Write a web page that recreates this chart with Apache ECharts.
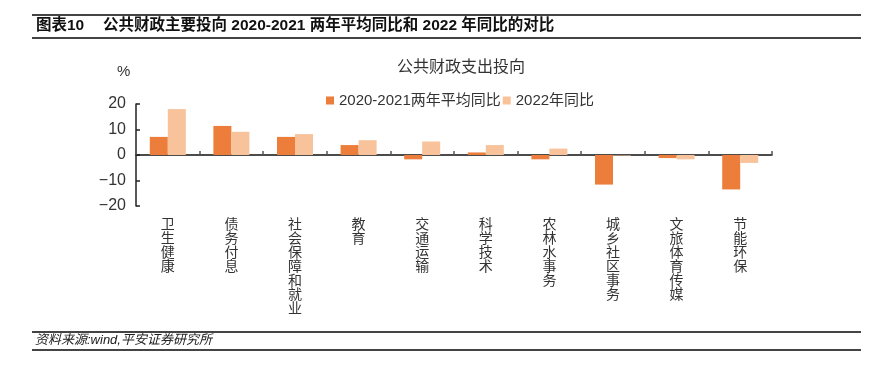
<!DOCTYPE html>
<html>
<head>
<meta charset="utf-8">
<script src="https://cdn.jsdelivr.net/npm/echarts@6/dist/echarts.min.js"></script>
<style>html,body{margin:0;padding:0;background:#fff}#c{width:875px;height:380px}</style>
</head>
<body>
<div id="c"></div>
<script>
var categories = ['卫生健康','债务付息','社会保障和就业','教育','交通运输','科学技术','农林水事务','城乡社区事务','文旅体育传媒','节能环保'];
var avg2020_2021 = [7.1, 11.4, 7.1, 3.9, -1.7, 1.0, -1.7, -11.6, -1.2, -13.5];
var yoy2022 = [18.0, 9.1, 8.2, 5.8, 5.3, 3.9, 2.5, -0.2, -1.7, -3.1];
var seriesNames = ['2020-2021两年平均同比', '2022年同比'];
var yTicks = {min: -20, max: 20, interval: 10};

var FONT = '"Liberation Sans", "Noto Sans CJK SC", sans-serif';
var chart = echarts.init(document.getElementById('c'), null, {renderer: 'canvas'});
var ruleStyle = {stroke: '#444', lineWidth: 2};
chart.setOption({
  animation: false,
  textStyle: {fontFamily: FONT},
  title: {
    text: '公共财政支出投向', left: 392, top: 55,
    textStyle: {fontSize: 16, fontWeight: 'normal', color: '#333', fontFamily: FONT}
  },
  legend: {
    left: 321, top: 88, itemWidth: 8, itemHeight: 8, itemGap: 2, icon: 'rect',
    textStyle: {fontSize: 15, color: '#333', fontFamily: FONT},
    data: seriesNames
  },
  grid: {left: 136, right: 103, top: 104, bottom: 174, containLabel: false},
  xAxis: {
    type: 'category', data: categories,
    axisLine: {onZero: true, lineStyle: {color: '#111', width: 1.5}},
    axisTick: {show: true, inside: true, length: 4, lineStyle: {color: '#555', width: 1.5}},
    axisLabel: {
      interval: 0, margin: 12, fontSize: 14, lineHeight: 14, color: '#333', fontFamily: FONT,
      formatter: function (v) { return v.split('').join('\n'); }
    }
  },
  yAxis: {
    type: 'value', min: yTicks.min, max: yTicks.max, interval: yTicks.interval,
    axisLine: {show: true, lineStyle: {color: '#222', width: 1.5}},
    axisTick: {show: true, inside: true, length: 4, lineStyle: {color: '#222', width: 1.5}},
    splitLine: {show: false},
    axisLabel: {
      fontSize: 16, color: '#333', margin: 10, fontFamily: FONT,
      formatter: function (v) { return v < 0 ? '\u2212' + Math.abs(v) : String(v); }
    }
  },
  series: [
    {name: seriesNames[0], type: 'bar', data: avg2020_2021, barWidth: 18, barGap: '0%',
     itemStyle: {color: '#ED7D3A'}},
    {name: seriesNames[1], type: 'bar', data: yoy2022, barWidth: 18,
     itemStyle: {color: '#F8C29B'}}
  ],
  graphic: [
    {type: 'line', shape: {x1: 32, y1: 15, x2: 861, y2: 15}, style: ruleStyle},
    {type: 'line', shape: {x1: 32, y1: 38, x2: 861, y2: 38}, style: ruleStyle},
    {type: 'text', left: 36, top: 18, style: {text: '图表10', fontSize: 15.5, fontWeight: 'bold', fill: '#111', fontFamily: FONT}},
    {type: 'text', left: 103, top: 18, style: {text: '公共财政主要投向 2020-2021 两年平均同比和 2022 年同比的对比', fontSize: 15.5, fontWeight: 'bold', fill: '#111', fontFamily: FONT}},
    {type: 'text', left: 117, top: 64, style: {text: '%', fontSize: 15, fill: '#333', fontFamily: FONT}},
    {type: 'line', shape: {x1: 32, y1: 332, x2: 861, y2: 332}, style: ruleStyle},
    {type: 'line', shape: {x1: 32, y1: 350, x2: 861, y2: 350}, style: ruleStyle},
    {type: 'text', left: 35, top: 334, style: {text: '资料来源:wind,平安证券研究所', fontSize: 13, fontStyle: 'italic', fill: '#222', fontFamily: FONT}}
  ]
});
</script>
</body>
</html>
